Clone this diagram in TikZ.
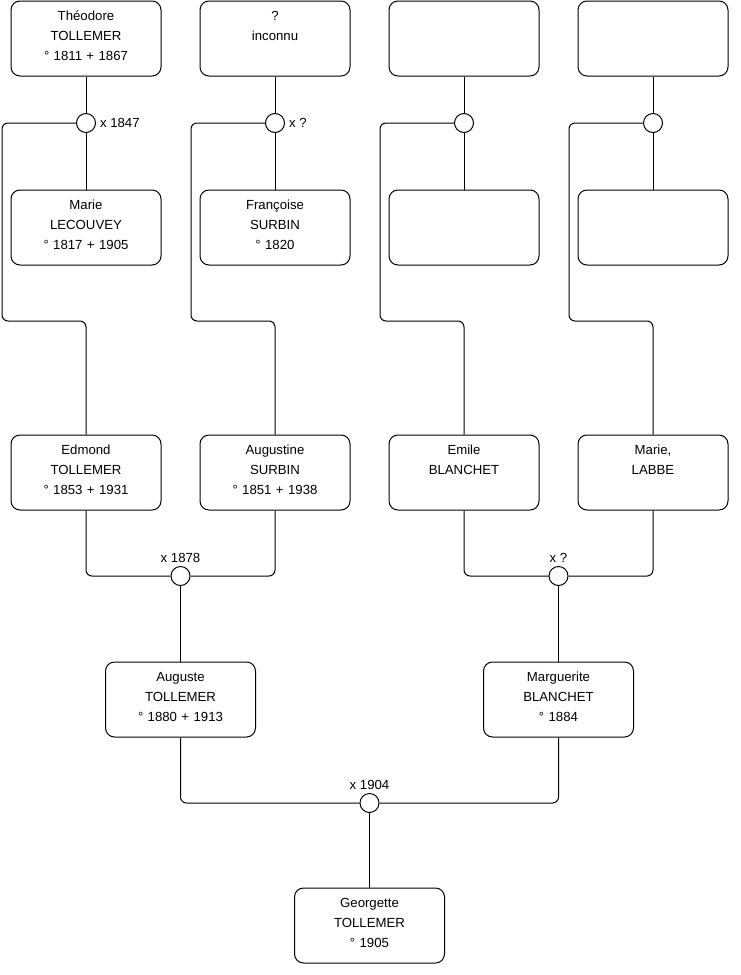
\documentclass[tikz,border=0pt]{standalone}
\usepackage{fontspec}
\setmainfont{Liberation Sans}
\usetikzlibrary{positioning,calc}

\begin{document}
\begin{tikzpicture}[
    x=1pt, y=-1pt,
    line width=1pt,
    node distance=38pt,
    person/.style={draw, rounded corners=9pt, minimum width=150pt, text width=140pt, align=center, inner ysep=0pt, text height=19.5pt, text depth=55.5pt, font=\fontsize{13.2}{19.8}\selectfont},
    union/.style={draw, circle, fill=white, minimum size=19pt, inner sep=0pt},
    wedding/.style={inner sep=0pt, font=\fontsize{13.2}{16}\selectfont},
    branch/.style={rounded corners=6pt}
  ]
  \useasboundingbox (0,0) rectangle (740,975);

  % great-grandparents
  \node[person] (theodore) at (86,38.5) {Théodore\\TOLLEMER\\° 1811 + 1867};
  \node[person, right=of theodore] (inconnu) {?\\inconnu};
  \node[person, right=of inconnu] (anc3) {};
  \node[person, right=of anc3] (anc4) {};

  \node[person, below=113pt of theodore] (marie) {Marie\\LECOUVEY\\° 1817 + 1905};
  \node[person, right=of marie] (francoise) {Françoise\\SURBIN\\° 1820};
  \node[person, right=of francoise] (anc7) {};
  \node[person, right=of anc7] (anc8) {};

  \node[union, below=36.5pt of theodore] (x1) {};
  \node[union, below=36.5pt of inconnu] (x2) {};
  \node[union, below=36.5pt of anc3] (x3) {};
  \node[union, below=36.5pt of anc4] (x4) {};
  \node[wedding, right=3.5pt of x1] (w1) {x 1847};
  \node[wedding, right=3.5pt of x2] (w2) {x ?};

  % grandparents
  \node[person, below=169pt of marie] (edmond) {Edmond\\TOLLEMER\\° 1853 + 1931};
  \node[person, right=of edmond] (augustine) {Augustine\\SURBIN\\° 1851 + 1938};
  \node[person, right=of augustine] (emile) {Emile\\BLANCHET};
  \node[person, right=of emile] (labbe) {Marie,\\LABBE};

  \draw (theodore) -- (x1) -- (marie);
  \draw (inconnu) -- (x2) -- (francoise);
  \draw (anc3) -- (x3) -- (anc7);
  \draw (anc4) -- (x4) -- (anc8);

  \draw[branch] (x1.west) -| ([xshift=-8.5pt]marie.south west) |- ([yshift=-55.5pt]marie.south) -- (edmond.north);
  \draw[branch] (x2.west) -| ([xshift=-8.5pt]francoise.south west) |- ([yshift=-55.5pt]francoise.south) -- (augustine.north);
  \draw[branch] (x3.west) -| ([xshift=-8.5pt]anc7.south west) |- ([yshift=-55.5pt]anc7.south) -- (emile.north);
  \draw[branch] (x4.west) -| ([xshift=-8.5pt]anc8.south west) |- ([yshift=-55.5pt]anc8.south) -- (labbe.north);

  % parents
  \node[union] (x5) at ([yshift=-65.5pt]$(edmond.south)!0.5!(augustine.south)$) {};
  \node[union] (x6) at ([yshift=-65.5pt]$(emile.south)!0.5!(labbe.south)$) {};
  \node[wedding, above=3pt of x5] (w5) {x 1878};
  \node[wedding, above=3pt of x6] (w6) {x ?};
  \draw[branch] (edmond) |- (x5);
  \draw[branch] (augustine) |- (x5);
  \draw[branch] (emile) |- (x6);
  \draw[branch] (labbe) |- (x6);

  \node[person, below=75.5pt of x5] (auguste) {Auguste\\TOLLEMER\\° 1880 + 1913};
  \node[person, below=75.5pt of x6] (marguerite) {Marguerite\\BLANCHET\\° 1884};
  \draw (x5) -- (auguste);
  \draw (x6) -- (marguerite);

  % child
  \node[union] (x7) at ([yshift=-65.5pt]$(auguste.south)!0.5!(marguerite.south)$) {};
  \node[wedding, above=3pt of x7] (w7) {x 1904};
  \draw[branch] (auguste) |- (x7);
  \draw[branch] (marguerite) |- (x7);

  \node[person, below=74.5pt of x7] (georgette) {Georgette\\TOLLEMER\\° 1905};
  \draw (x7) -- (georgette);
\end{tikzpicture}
\end{document}
